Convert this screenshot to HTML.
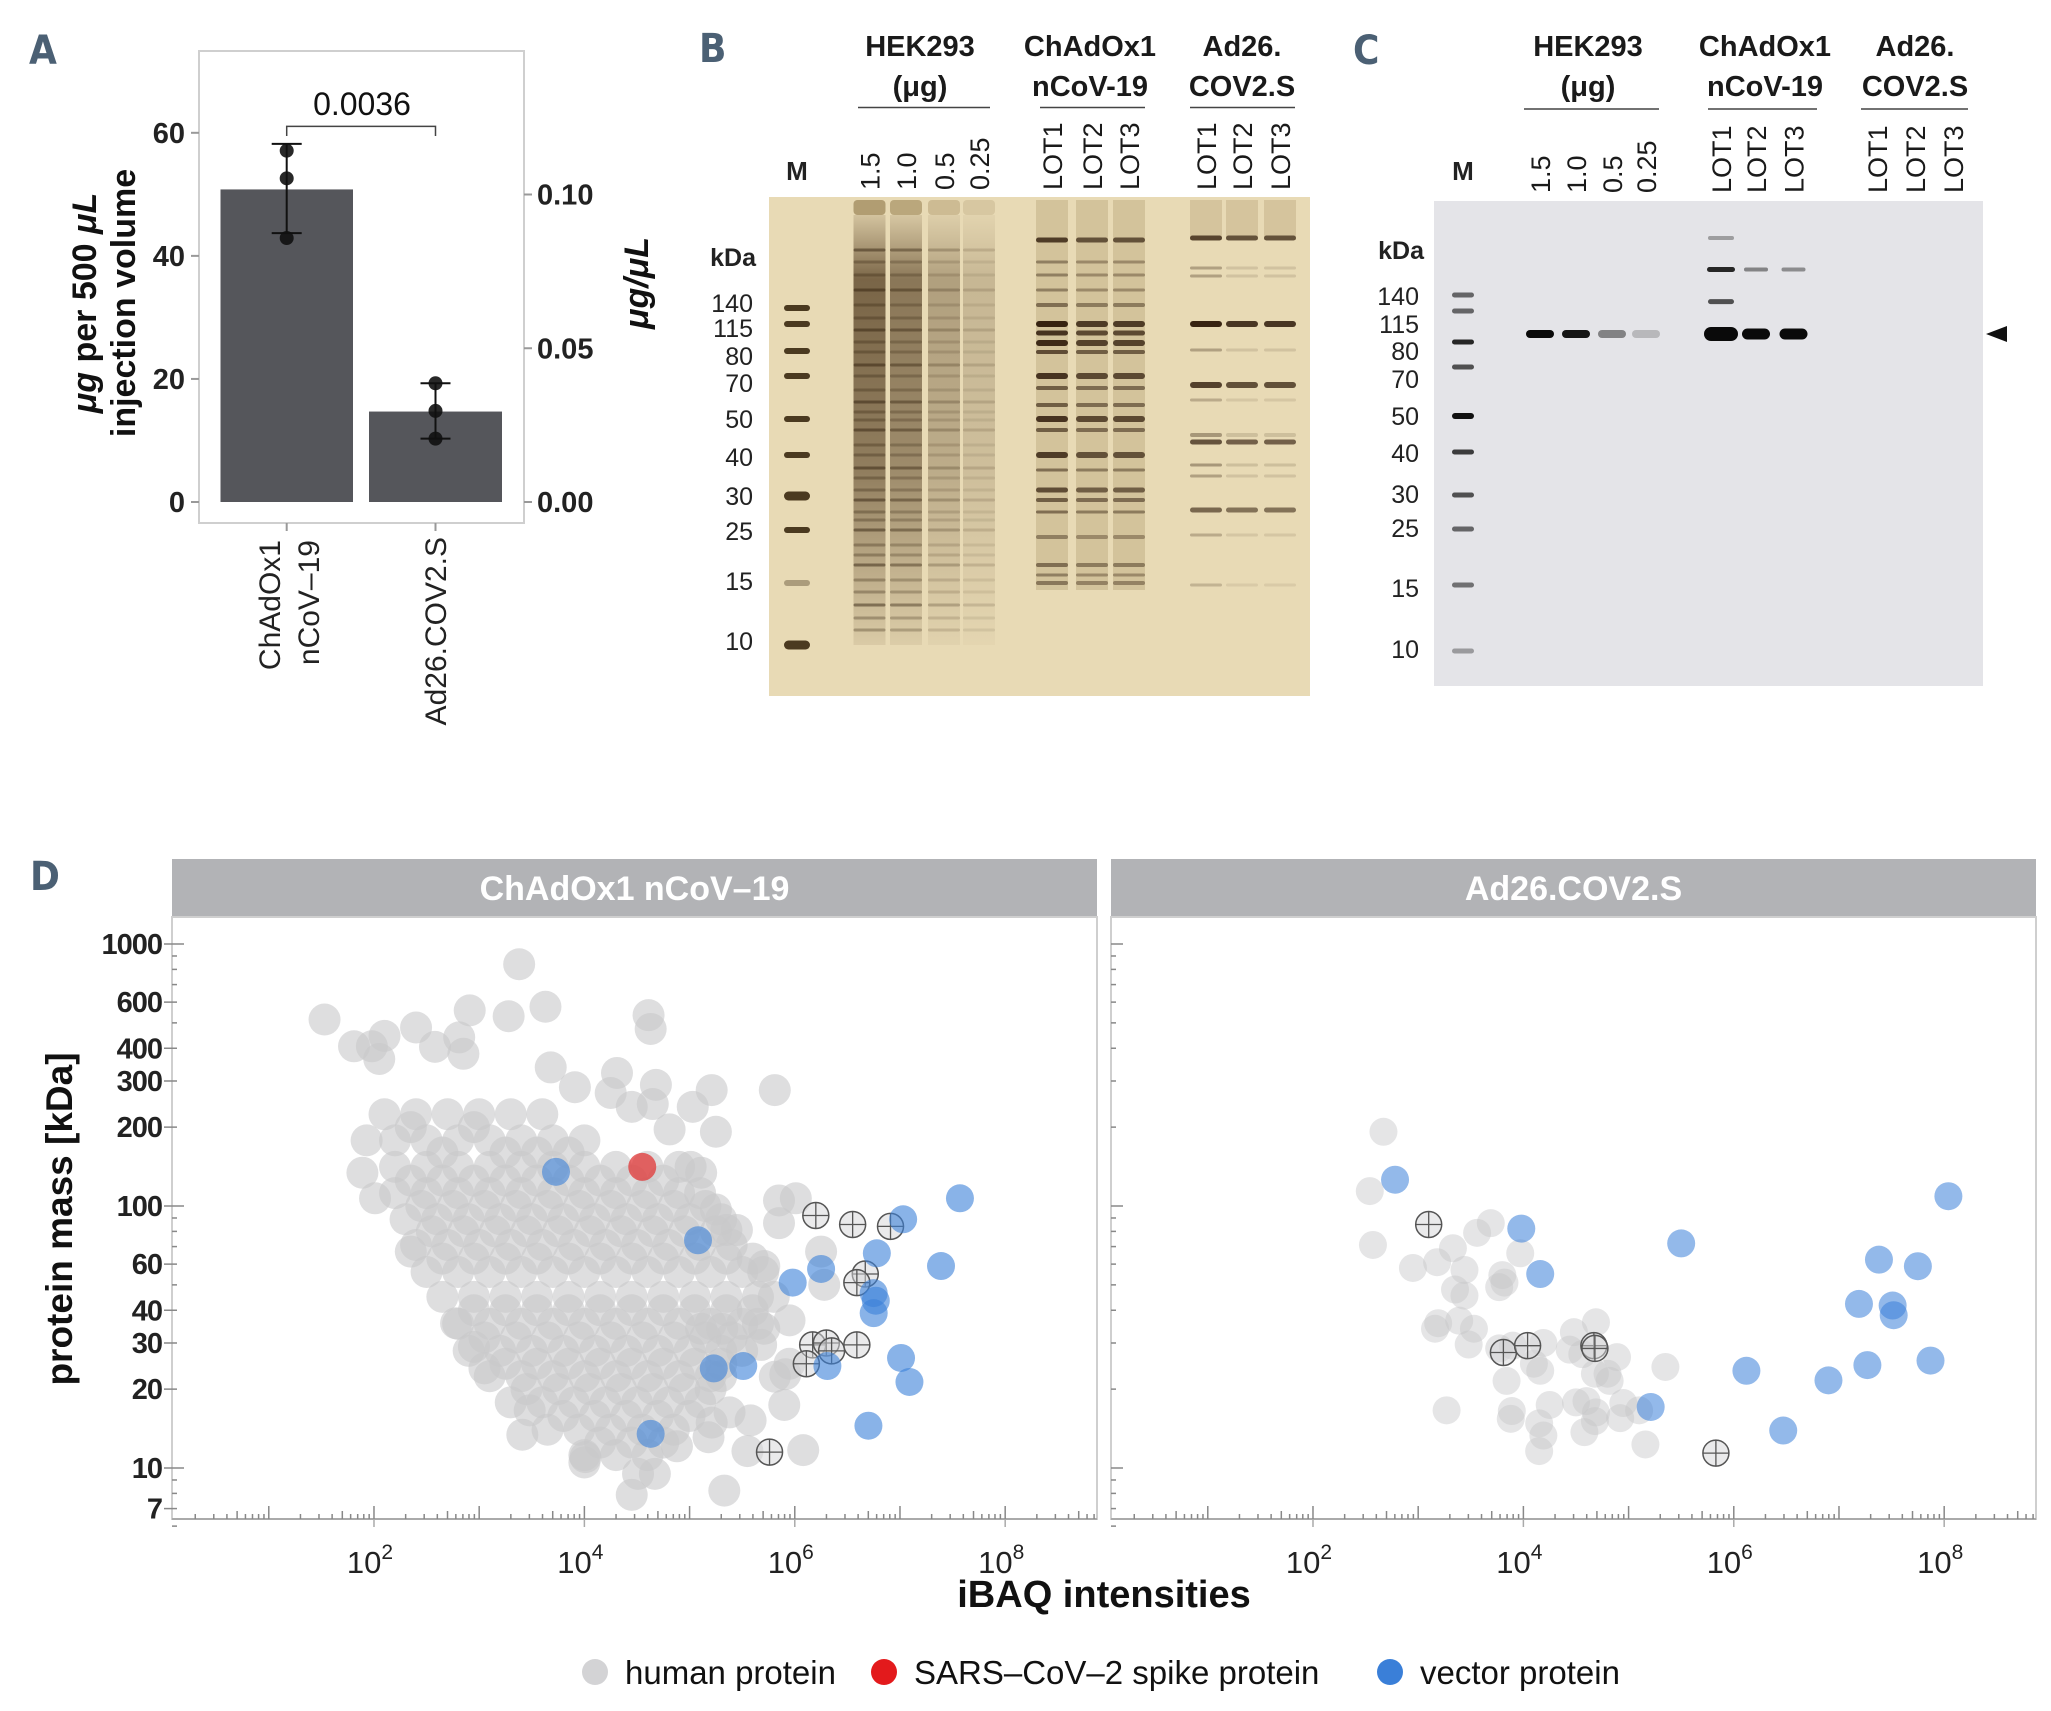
<!DOCTYPE html>
<html><head><meta charset="utf-8"><style>
html,body{margin:0;padding:0;background:#fff;}
svg{display:block;font-family:"Liberation Sans",sans-serif;}
.lt{font-family:"Liberation Sans Narrow","DejaVu Sans Condensed","Liberation Sans",sans-serif;font-weight:bold;fill:#4b6074;font-size:40px;}
</style></head><body>
<svg id="fig" width="2051" height="1711" viewBox="0 0 2051 1711" xmlns="http://www.w3.org/2000/svg">
<defs>
<linearGradient id="smear" x1="0" y1="0" x2="0" y2="1">
<stop offset="0" stop-color="#5a4020" stop-opacity="0.15"/>
<stop offset="0.15" stop-color="#4a3318" stop-opacity="0.7"/>
<stop offset="0.6" stop-color="#4a3318" stop-opacity="0.55"/>
<stop offset="1" stop-color="#5a4020" stop-opacity="0.1"/>
</linearGradient>
</defs>
<g id="pA"></g>
<g id="pB"></g>
<g id="pC"></g>
<g id="pD"></g>
</svg>
<script>
// ---------- Panel A data ----------
const aCategories = ["ChAdOx1 nCoV-19", "Ad26.COV2.S"];
const aMeans = [50.8, 14.7];
const aPoints1 = [57.1, 52.6, 42.9];
const aPoints2 = [19.3, 14.8, 10.3];
const aErrHigh = [58.2, 19.3];
const aErrLow = [43.7, 10.3];
const aLeftTicks = [0, 20, 40, 60];
const aRightTicks = [0.00, 0.05, 0.10];
const aPValue = "0.0036";

// ---------- Panel D data: [log10 iBAQ, mass kDa] ----------
const human1 = [
[2.1,224],[2.4,224],[2.7,224],[3.0,224],[3.3,224],[3.6,224],
[2.2,178],[2.5,178],[2.8,178],[3.1,178],[3.4,178],[3.7,178],[4.0,178],
[2.2,141],[2.5,141],[2.8,141],[3.1,141],[3.4,141],[3.7,141],[4.0,141],[4.3,141],[4.6,141],[4.9,141],
[2.2,112],[2.5,112],[2.8,112],[3.1,112],[3.4,112],[3.7,112],[4.0,112],[4.3,112],[4.6,112],[4.9,112],[5.1,112],
[2.3,89],[2.6,89],[2.9,89],[3.2,89],[3.5,89],[3.8,89],[4.1,89],[4.4,89],[4.7,89],[5.0,89],[5.3,89],
[2.4,71],[2.7,71],[3.0,71],[3.3,71],[3.6,71],[3.9,71],[4.2,71],[4.5,71],[4.8,71],[5.1,71],[5.4,71],
[2.5,56],[2.8,56],[3.1,56],[3.4,56],[3.7,56],[4.0,56],[4.3,56],[4.6,56],[4.9,56],[5.2,56],[5.5,56],[5.7,56],
[2.65,45],[2.95,45],[3.25,45],[3.55,45],[3.85,45],[4.15,45],[4.45,45],[4.75,45],[5.05,45],[5.35,45],[5.65,45],[5.8,45],
[2.8,35.5],[3.1,35.5],[3.4,35.5],[3.7,35.5],[4.0,35.5],[4.3,35.5],[4.6,35.5],[4.9,35.5],[5.2,35.5],[5.5,35.5],[5.65,35.5],
[2.9,28],[3.2,28],[3.5,28],[3.8,28],[4.1,28],[4.4,28],[4.7,28],[5.0,28],[5.3,28],[5.5,28],
[3.1,22.4],[3.4,22.4],[3.7,22.4],[4.0,22.4],[4.3,22.4],[4.6,22.4],[4.9,22.4],[5.2,22.4],[5.3,22.4],
[3.3,17.8],[3.6,17.8],[3.9,17.8],[4.2,17.8],[4.5,17.8],[4.8,17.8],[5.1,17.8],
[3.65,14],[3.95,14],[4.25,14],[4.55,14],[4.85,14],
[4.0,11.2],[4.3,11.2],[4.6,11.2],
[2.35,200],[2.65,160],[2.95,200],[3.25,160],[3.55,160],[3.85,160],[2.35,125],[2.65,125],[2.95,125],[3.25,125],[3.55,125],[3.85,125],[4.15,125],[4.45,125],[4.75,125],
[2.45,100],[2.75,100],[3.05,100],[3.35,100],[3.65,100],[3.95,100],[4.25,100],[4.55,100],[4.85,100],[5.15,100],
[2.55,80],[2.85,80],[3.15,80],[3.45,80],[3.75,80],[4.05,80],[4.35,80],[4.65,80],[4.95,80],[5.25,80],
[2.65,63],[2.95,63],[3.25,63],[3.55,63],[3.85,63],[4.15,63],[4.45,63],[4.75,63],[5.05,63],[5.35,63],[5.6,63],
[2.95,40],[3.25,40],[3.55,40],[3.85,40],[4.15,40],[4.45,40],[4.75,40],[5.05,40],[5.35,40],[5.6,40],
[3.05,31.5],[3.35,31.5],[3.65,31.5],[3.95,31.5],[4.25,31.5],[4.55,31.5],[4.85,31.5],[5.15,31.5],[5.4,31.5],
[3.25,25],[3.55,25],[3.85,25],[4.15,25],[4.45,25],[4.75,25],[5.05,25],[5.3,25],
[3.45,20],[3.75,20],[4.05,20],[4.35,20],[4.65,20],[4.95,20],[5.2,20],
[3.8,15.8],[4.1,15.8],[4.4,15.8],[4.7,15.8],[5.0,15.8],[4.15,12.5],[4.45,12.5],[4.75,12.5],
[1.53,515],[1.81,407],[1.98,407],[2.1,446],[2.05,364],[2.4,480],[2.58,405],[2.81,440],[2.85,381],[2.91,558],[3.28,530],[3.38,837],[3.63,576],[4.61,535],[4.63,474],
[3.68,338],[4.31,322],[4.68,290],[3.91,284],[4.25,270],[4.45,239],[4.65,245],[5.03,239],[5.21,277],[5.81,277],[5.25,192],[4.81,196],
[1.93,178],[1.89,134],[2.01,107],[5.01,141],[5.11,134],[5.25,97],[5.35,81],[5.45,81],[5.85,105],[6.01,107],[5.85,86],[6.25,67],[6.28,50],[5.71,59],
[5.95,36.6],[5.71,34],[5.68,29.5],[5.95,25],[5.81,22.3],[5.91,22.8],[5.9,17.4],[5.38,16.3],[5.58,15.2],[5.21,14.9],[5.18,13.1],[5.55,11.6],[6.08,11.7],[5.33,8.2],
[4.88,12.1],[4.67,9.5],[4.51,9.5],[4.45,7.9],[4.0,10.5],[4.01,11],[3.41,13.4],[3.48,16.6],[3.05,24],[2.95,29],[2.35,67],[2.78,35.7],[5.11,34],[5.31,34]
];
const vector1 = [[3.73,135],[5.08,74],[5.98,51],[6.25,57.5],[6.78,66],[7.03,89],[7.57,107],[7.39,59],[6.75,46.5],[6.77,43.5],[6.75,39],[7.01,26.3],[7.09,21.3],[6.7,14.5],[6.31,24.5],[5.51,24.5],[5.23,24],[4.63,13.5]];
const spike1 = [[4.55,141]];
const crossed1 = [[6.2,92],[6.55,85],[6.91,83.6],[6.67,55],[6.59,51],[6.17,29.5],[6.3,30],[6.35,28],[6.11,25],[6.59,29.5],[5.76,11.5]];
const human2 = [[2.67,192],[2.54,114],[2.57,71],[2.95,58],[3.18,61],[3.33,69],[3.44,57],[3.56,79],[3.69,86],[3.97,66],[3.8,54.5],[3.77,49],[3.82,51],[3.35,48],[3.44,45.5],[3.19,35.7],[3.16,34],[3.39,36.5],[3.53,34],[3.48,29.6],[3.77,28.6],[3.9,29.3],[4.19,30],[4.1,25],[4.16,23.5],[3.84,21.5],[4.48,33],[4.69,36],[4.44,28.3],[4.56,27.2],[4.89,26.5],[4.8,22.9],[4.68,22.9],[4.82,21.5],[5.35,24.3],[3.27,16.6],[3.89,16.5],[3.88,15.4],[4.25,17.4],[4.15,14.8],[4.19,13.3],[4.15,11.6],[4.5,17.8],[4.6,18],[4.69,16.3],[4.68,15.1],[4.58,13.7],[4.95,17.7],[4.92,15.5],[5.1,16.6],[5.16,12.3]];
const crossed2 = [[3.1,85],[3.81,27.6],[4.04,29.3],[4.67,29.3],[4.68,28.6],[5.83,11.4]];
const vector2 = [[2.78,126],[3.98,82],[4.16,55],[5.5,72],[5.21,17.1],[6.12,23.5],[6.47,13.9],[6.9,21.6],[7.19,42.3],[7.27,24.7],[7.38,62.4],[7.51,41.7],[7.52,38.3],[7.75,58.9],[7.87,25.7],[8.04,109]];
const dYTicks = [7,10,20,30,40,60,100,200,300,400,600,1000];
const dXLabels = [2,4,6,8];
const dFacets = ["ChAdOx1 nCoV\u201319", "Ad26.COV2.S"];

// ---------- Gel data ----------
const gelMarkers = [140,115,80,70,50,40,30,25,15,10];
const gelBMarkerY = [308,324,351,376,419,455,496,530,583,645];
const gelBLabelY = [303,328,356,383,419,457,496,531,581,641];
const gelCMarkerY = [295,311,342,367,416,452,495,529,585,651];
const gelCLabelY = [296,324,351,379,416,453,494,528,588,649];
const gelHEKLoads = ["1.5","1.0","0.5","0.25"];
const gelLots = ["LOT1","LOT2","LOT3"];

const NS = "http://www.w3.org/2000/svg";
function mk(parent, tag, attrs, text){
  const e = document.createElementNS(NS, tag);
  for (const k in attrs) e.setAttribute(k, attrs[k]);
  if (text !== undefined) e.textContent = text;
  parent.appendChild(e);
  return e;
}
const pA = document.getElementById('pA');
const pB = document.getElementById('pB');
const pC = document.getElementById('pC');
const pD = document.getElementById('pD');

// ================= PANEL A =================
(function(){
  const yA = v => 502 - v * 6.153;
  const yR = v => 502 - v * 3075;
  const barX = [[220.5,353],[369,502]];
  const cx = [286.7, 435.5];
  let t = mk(pA,'text',{x:29,y:64,class:'lt'},'A');
   
  let fr = mk(pA,'rect',{x:199,y:51,width:325,height:472,fill:'none',stroke:'#cfcfcf','stroke-width':2});
   
  aLeftTicks.forEach(v=>{
    let l = mk(pA,'line',{x1:191,x2:199,y1:yA(v),y2:yA(v),stroke:'#999','stroke-width':2});
     
    let tx = mk(pA,'text',{x:185,y:yA(v)+10,'text-anchor':'end','font-size':29,'font-weight':'bold',fill:'#222'},String(v));
     
  });
  aRightTicks.forEach(v=>{
    let l = mk(pA,'line',{x1:524,x2:532,y1:yR(v),y2:yR(v),stroke:'#999','stroke-width':2});
     
    let tx = mk(pA,'text',{x:537,y:yR(v)+10,'font-size':29,'font-weight':'bold',fill:'#222'},v.toFixed(2));
     
  });
  aMeans.forEach((m,i)=>{
    let r = mk(pA,'rect',{x:barX[i][0],y:yA(m),width:barX[i][1]-barX[i][0],height:yA(0)-yA(m),fill:'#55565b'});
     
    let e = mk(pA,'line',{x1:cx[i],x2:cx[i],y1:yA(aErrHigh[i]),y2:yA(aErrLow[i]),stroke:'#111','stroke-width':2});
     
    [aErrHigh[i],aErrLow[i]].forEach(v=>{
      let c = mk(pA,'line',{x1:cx[i]-15,x2:cx[i]+15,y1:yA(v),y2:yA(v),stroke:'#111','stroke-width':2});
       
    });
    let tk = mk(pA,'line',{x1:cx[i],x2:cx[i],y1:523,y2:531,stroke:'#999','stroke-width':2});
     
  });
  [aPoints1,aPoints2].forEach((pts,i)=>pts.forEach(v=>{
    let c = mk(pA,'circle',{cx:cx[i],cy:yA(v),r:7,fill:'#111','fill-opacity':0.9});
     
  }));
  let br = mk(pA,'path',{d:`M${cx[0]} 136 V126.4 H${cx[1]} V136`,fill:'none',stroke:'#444','stroke-width':1.5});
   
  let pv = mk(pA,'text',{x:362,y:115,'text-anchor':'middle','font-size':32,fill:'#111'},aPValue);
   
  let yt = mk(pA,'text',{transform:'translate(96,303) rotate(-90)','text-anchor':'middle','font-size':34,'font-weight':'bold',fill:'#111'});
   
  mk(yt,'tspan',{x:0,y:0,'font-style':'italic'},'\u03bcg');
  mk(yt,'tspan',{},' per 500 ');
  mk(yt,'tspan',{'font-style':'italic'},'\u03bcL');
  mk(yt,'tspan',{x:0,y:39},'injection volume');
  let yr = mk(pA,'text',{transform:'translate(648,283) rotate(-90)','text-anchor':'middle','font-size':34,'font-weight':'bold','font-style':'italic',fill:'#111'},'\u03bcg/\u03bcL');
   
  let x1 = mk(pA,'text',{transform:'translate(280,540) rotate(-90)','text-anchor':'end','font-size':30,fill:'#222'});
   
  mk(x1,'tspan',{x:0,y:0},'ChAdOx1');
  mk(x1,'tspan',{x:0,y:39},'nCoV\u201319');
  let x2 = mk(pA,'text',{transform:'translate(446,537) rotate(-90)','text-anchor':'end','font-size':30,fill:'#222'},aCategories[1]);
   
})();

// ================= GEL HELPERS =================
function band(g, x, y, w, h, color, op, name){
  const r = mk(g,'rect',{x:x-w/2,y:y-h/2,width:w,height:h,rx:h/2,fill:color,'fill-opacity':op});
   
  return r;
}
function gelHeaders(g, hekC, chC, adC, lines, laneX, mX, labelBottom){
  const heads = [[hekC,'HEK293','(\u03bcg)'],[chC,'ChAdOx1','nCoV-19'],[adC,'Ad26.','COV2.S']];
  heads.forEach(h=>{
    let t = mk(g,'text',{x:h[0],y:56,'text-anchor':'middle','font-size':29,'font-weight':'bold',fill:'#1a1a1a'},h[1]);
     
    let t2 = mk(g,'text',{x:h[0],y:96,'text-anchor':'middle','font-size':29,'font-weight':'bold',fill:'#1a1a1a'},h[2]);
     
  });
  lines.forEach(l=>{
    let ln = mk(g,'line',{x1:l[0],x2:l[1],y1:l[2],y2:l[2],stroke:'#444','stroke-width':1.5});
     
  });
  const labels = gelHEKLoads.concat(gelLots, gelLots);
  labels.forEach((s,i)=>{
    let t = mk(g,'text',{transform:`translate(${laneX[i]+10},${labelBottom}) rotate(-90)`,'font-size':27,fill:'#1a1a1a'},s);
     
  });
  let m = mk(g,'text',{x:mX,y:180,'text-anchor':'middle','font-size':26,'font-weight':'bold',fill:'#222'},'M');
   
}

// ================= PANEL B =================
(function(){
  const g = pB;
  let t = mk(g,'text',{x:699,y:62,class:'lt'},'B');
   
  const laneX = [869.5,906,944,979,1052,1092,1129,1206,1242,1280];
  gelHeaders(g, 920, 1090, 1242, [[858,990,107.5],[1040,1145,107.5],[1190,1295,107.5]], laneX, 797, 190);
  let bg = mk(g,'rect',{x:769,y:197,width:541,height:499,fill:'#e8dab5'});
   
  let k = mk(g,'text',{x:756,y:266,'text-anchor':'end','font-size':25,'font-weight':'bold',fill:'#222'},'kDa');
   
  gelMarkers.forEach((m,i)=>{
    let tx = mk(g,'text',{x:753,y:gelBLabelY[i]+9,'text-anchor':'end','font-size':25,fill:'#222'},String(m));
     
    band(g,797,gelBMarkerY[i],26,(i===9||i===6)?9:6,'#3a2810',(i===8)?0.35:0.9,'marker-band');
  });
  const hekOp = [1,0.85,0.5,0.3];
  const hekBands = [250,262,275,290,305,318,330,342,352,365,376,390,402,412,420,430,445,455,468,478,490,500,512,520,530,545,555,565,580,592,605,618,630];
  for(let i=0;i<4;i++){
    let w = mk(g,'rect',{x:laneX[i]-16,y:200,width:32,height:15,rx:4,fill:'#7a6030','fill-opacity':0.5*hekOp[i]});
     
    let s = mk(g,'rect',{x:laneX[i]-16,y:215,width:32,height:430,fill:'url(#smear)','opacity':hekOp[i]});
     
    hekBands.forEach((y,j)=>band(g,laneX[i],y,32,3,'#2e1e0a',0.3*hekOp[i]*(j%3===0?1.6:1),'hek-band'));
  }
  const chBands = [[240,5,0.8],[262,3,0.4],[275,3,0.4],[290,3,0.4],[305,4,0.5],[324,6,0.95],[333,5,0.85],[343,6,0.9],[352,4,0.7],[376,6,0.85],[388,4,0.6],[405,4,0.6],[419,6,0.85],[430,4,0.6],[455,6,0.8],[470,3,0.5],[490,5,0.7],[500,4,0.6],[512,3,0.5],[537,4,0.4],[565,4,0.5],[575,3,0.4],[583,4,0.45]];
  for(let i=4;i<7;i++){
    let s = mk(g,'rect',{x:laneX[i]-16,y:200,width:32,height:390,fill:'#8a7040','fill-opacity':0.22});
     
    chBands.forEach(b=>band(g,laneX[i],b[0],32,b[1],'#2e1a0a',b[2]*(i===4?1:0.85),'chadox-band'));
  }
  const adBands = [[238,5,0.75],[268,3,0.3],[276,3,0.3],[324,6,0.95],[350,3,0.3],[385,6,0.8],[400,3,0.25],[435,4,0.35],[442,5,0.7],[465,3,0.35],[476,3,0.3],[510,5,0.6],[535,3,0.25],[585,3,0.2]];
  for(let i=7;i<10;i++){
    let s = mk(g,'rect',{x:laneX[i]-16,y:200,width:32,height:40,fill:'#8a7040','fill-opacity':0.2});
     
    adBands.forEach(b=>band(g,laneX[i],b[0],32,b[1],'#2e1a0a',b[2]*(i===7?1:(b[2]>0.5?0.9:0.4)),'ad26-band'));
  }
})();

// ================= PANEL C =================
(function(){
  const g = pC;
  let t = mk(g,'text',{x:1353,y:64,class:'lt'},'C');
   
  const laneX = [1540,1576,1612,1646,1721,1756,1793.5,1877,1915,1953];
  gelHeaders(g, 1588, 1765, 1915, [[1524,1659,109],[1708,1817,109],[1861,1968,109]], laneX, 1463, 193);
  let bg = mk(g,'rect',{x:1434,y:201,width:549,height:485,fill:'#e4e4e8'});
   
  let k = mk(g,'text',{x:1424,y:259,'text-anchor':'end','font-size':25,'font-weight':'bold',fill:'#222'},'kDa');
   
  gelMarkers.forEach((m,i)=>{
    let tx = mk(g,'text',{x:1419,y:gelCLabelY[i]+9,'text-anchor':'end','font-size':25,fill:'#222'},String(m));
     
    band(g,1463,gelCMarkerY[i],22,(i===4)?6:5,'#111',[0.6,0.6,0.9,0.7,1,0.8,0.7,0.6,0.55,0.35][i],'marker-band');
  });
  const spikeOp = [1,0.95,0.45,0.2,1,1,1];
  for(let i=0;i<7;i++){
    band(g,laneX[i],334,i===4?34:28,i===4?14:(i<4?8:11),'#0a0a0a',spikeOp[i],'spike-band');
  }
  band(g,1721,269.5,28,5,'#111',0.9,'oligomer-band');
  band(g,1721,238,26,4,'#333',0.4,'oligomer-band');
  band(g,1721,301.6,26,5,'#111',0.7,'oligomer-band');
  band(g,1756,269.5,24,4,'#222',0.5,'oligomer-band');
  band(g,1793.5,269.5,24,4,'#222',0.45,'oligomer-band');
  let ar = mk(g,'path',{d:'M1986 334 L2007 326 L2007 342 Z',fill:'#111'});
   
})();

// ================= PANEL D =================
(function(){
  const g = pD;
  const panels = [172, 1111];
  const W = 925, top = 917, bottom = 1519, stripTop = 859;
  const xD = (left, lg) => left + (lg - 0.08) * 105.2;
  const yD = m => 944 + (3 - Math.log10(m)) * 262;
  let t = mk(g,'text',{x:30,y:890,class:'lt'},'D');
   
  panels.forEach((L,pi)=>{
    let s = mk(g,'rect',{x:L,y:stripTop,width:W,height:top-stripTop,fill:'#b2b3b6'});
     
    let st = mk(g,'text',{x:L+W/2,y:900,'text-anchor':'middle','font-size':34,'font-weight':'bold',fill:'#fff'},dFacets[pi]);
     
    let f = mk(g,'rect',{x:L,y:top,width:W,height:bottom-top,fill:'none',stroke:'#cfcfcf','stroke-width':2});
     
    let ax = mk(g,'line',{x1:L,x2:L+W,y1:bottom,y2:bottom,stroke:'#aaa','stroke-width':2});
     
    for(let d=0; d<9; d++){
      for(let k=1;k<10;k++){
        const lg = d + Math.log10(k);
        const x = xD(L,lg);
        if (x < L+2 || x > L+W-2) continue;
        const len = k===1 ? 13 : (k===5 ? 8 : 5);
        let tk = mk(g,'line',{x1:x,x2:x,y1:bottom,y2:bottom-len,stroke:'#888','stroke-width':1.5});
         
      }
    }
    dXLabels.forEach(e=>{
      const x = xD(L,e);
      let tk = mk(g,'line',{x1:x,x2:x,y1:bottom,y2:bottom+8,stroke:'#aaa','stroke-width':1.5});
       
      let tx = mk(g,'text',{x:x-4,y:1573,'text-anchor':'middle','font-size':31,fill:'#222'});
       
      mk(tx,'tspan',{},'10');
      mk(tx,'tspan',{dy:-14,'font-size':21},String(e));
    });
    [1,10,100].forEach(dec=>{
      for(let k=1;k<10;k++){
        const m = dec*k;
        if (m < 6 || m > 1100) continue;
        const y = yD(m);
        let tk = mk(g,'line',{x1:L,x2:L+(k===1?12:5),y1:y,y2:y,stroke:'#888','stroke-width':1.5});
         
      }
    });
    const yd = yD(1000);
    let tk1 = mk(g,'line',{x1:L,x2:L+12,y1:yd,y2:yd,stroke:'#888','stroke-width':1.5});
     
  });
  dYTicks.forEach(m=>{
    const y = yD(m);
    let tk = mk(g,'line',{x1:164,x2:172,y1:y,y2:y,stroke:'#888','stroke-width':1.5});
     
    let tx = mk(g,'text',{x:162,y:y+10,'text-anchor':'end','font-size':29,'font-weight':'bold',fill:'#222','letter-spacing':'-1'},String(m));
     
  });
  function dots(L, data, fill, op, r, name){
    data.forEach(p=>{
      let c = mk(g,'circle',{cx:xD(L,p[0]),cy:yD(p[1]),r:r,fill:fill,'fill-opacity':op});
       
    });
  }
  function crossed(L, data){
    data.forEach(p=>{
      const x = xD(L,p[0]), y = yD(p[1]);
      let c = mk(g,'circle',{cx:x,cy:y,r:13,fill:'#d6d6d8','fill-opacity':0.5,stroke:'#555','stroke-width':1.5});
       
      let l1 = mk(g,'path',{d:`M${x-13} ${y} H${x+13} M${x} ${y-13} V${y+13}`,stroke:'#555','stroke-width':1.3});
       
    });
  }
  dots(panels[0], human1, '#c8c8ca', 0.6, 16, 'human-protein-point');
  dots(panels[1], human2, '#c6c6c8', 0.45, 14, 'human-protein-point');
  crossed(panels[0], crossed1);
  crossed(panels[1], crossed2);
  dots(panels[0], vector1, '#3a80d8', 0.6, 14, 'vector-protein-point');
  dots(panels[1], vector2, '#3a80d8', 0.55, 14, 'vector-protein-point');
  dots(panels[0], spike1, '#e03535', 0.75, 14, 'spike-protein-point');
  let xt = mk(g,'text',{x:1104,y:1607,'text-anchor':'middle','font-size':38,'font-weight':'bold',fill:'#111'},'iBAQ intensities');
   
  let yt = mk(g,'text',{transform:'translate(72,1219) rotate(-90)','text-anchor':'middle','font-size':37,'font-weight':'bold',fill:'#111'},'protein mass [kDa]');
   
  const leg = [[595,'#d3d3d5','human protein'],[884,'#e31a1c','SARS\u2013CoV\u20132 spike protein'],[1390,'#3a7fd8','vector protein']];
  leg.forEach(l=>{
    let c = mk(g,'circle',{cx:l[0],cy:1672,r:13,fill:l[1]});
     
    let tx = mk(g,'text',{x:l[0]+30,y:1684,'font-size':33,fill:'#111'},l[2]);
     
  });
})();
</script>
</body></html>
